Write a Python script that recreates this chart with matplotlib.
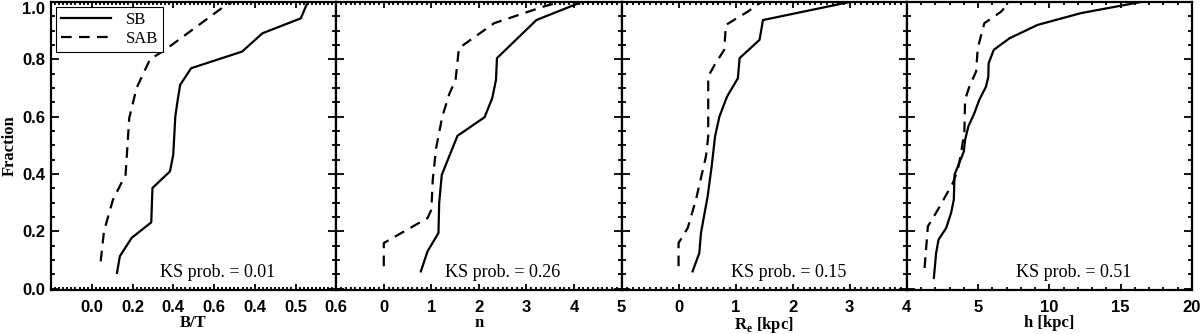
import matplotlib
matplotlib.use("Agg")
import matplotlib.pyplot as plt
from matplotlib.ticker import MultipleLocator, FixedLocator, FixedFormatter, FormatStrFormatter

# cumulative fractions
bt_sb_x = [0.062, 0.069, 0.098, 0.146, 0.149, 0.192, 0.200, 0.205, 0.211, 0.217, 0.244, 0.369, 0.419, 0.513, 0.530]
bt_sb_y = [0.055, 0.113, 0.177, 0.231, 0.351, 0.409, 0.467, 0.600, 0.659, 0.711, 0.769, 0.827, 0.891, 0.943, 1.0]
bt_sab_x = [0.022, 0.030, 0.052, 0.083, 0.092, 0.110, 0.143, 0.180, 0.324, 0.345]
bt_sab_y = [0.095, 0.200, 0.310, 0.397, 0.595, 0.700, 0.800, 0.833, 0.984, 1.0]

n_sb_x = [0.78, 0.92, 1.15, 1.165, 1.22, 1.55, 2.12, 2.28, 2.36, 2.38, 3.21, 4.16]
n_sb_y = [0.060, 0.130, 0.194, 0.299, 0.397, 0.533, 0.598, 0.664, 0.728, 0.804, 0.937, 1.0]
n_sab_x = [0.0, 0.0, 0.92, 1.0, 1.03, 1.10, 1.23, 1.38, 1.51, 1.58, 2.32, 3.36, 3.70]
n_sab_y = [0.078, 0.159, 0.246, 0.275, 0.380, 0.490, 0.600, 0.680, 0.728, 0.839, 0.926, 0.984, 1.0]

re_sb_x = [0.246, 0.364, 0.393, 0.51, 0.58, 0.64, 0.716, 0.85, 1.04, 1.07, 1.42, 1.48, 3.0]
re_sb_y = [0.060, 0.124, 0.194, 0.322, 0.426, 0.531, 0.600, 0.670, 0.734, 0.804, 0.868, 0.937, 1.0]
re_sab_x = [0.0, 0.0, 0.16, 0.305, 0.48, 0.52, 0.52, 0.63, 0.80, 0.83, 1.21, 1.45]
re_sab_y = [0.078, 0.159, 0.211, 0.310, 0.461, 0.531, 0.740, 0.780, 0.833, 0.920, 0.966, 1.0]

h_sb_x = [1.90, 2.06, 2.23, 2.76, 3.11, 3.30, 3.35, 4.0, 4.09, 4.32, 4.74, 5.09, 5.56, 5.72, 5.74,
          6.10, 7.19, 9.17, 12.2, 16.4]
h_sb_y = [0.037, 0.124, 0.171, 0.211, 0.264, 0.310, 0.397, 0.478, 0.519, 0.566, 0.612, 0.659, 0.705,
          0.740, 0.786, 0.833, 0.873, 0.920, 0.961, 1.0]
h_sab_x = [1.25, 1.48, 2.18, 3.23, 3.58, 3.81, 4.04, 4.09, 4.39, 4.86, 4.98, 5.44, 6.61, 7.2]
h_sab_y = [0.072, 0.217, 0.275, 0.368, 0.415, 0.473, 0.548, 0.659, 0.705, 0.757, 0.839, 0.926, 0.966, 1.0]

ks_probs = ["0.01", "0.26", "0.15", "0.51"]
xlabels = ["B/T", "n", r"R$_\mathbf{e}$ [kpc]", "h [kpc]"]
bt_ticks = [0.0, 0.1, 0.2, 0.3, 0.4, 0.5, 0.6]
bt_ticklabels = ["0.0", "0.2", "0.4", "0.6", "0.4", "0.5", "0.6"]
n_ticks = [0, 1, 2, 3, 4, 5]
re_ticks = [0, 1, 2, 3, 4]
h_ticks = [5, 10, 15, 20]
frac_ticks = [0.0, 0.2, 0.4, 0.6, 0.8, 1.0]

serif = "Liberation Serif"
plt.rcParams["font.family"] = "Liberation Sans"
plt.rcParams["font.weight"] = "bold"
plt.rcParams["mathtext.fontset"] = "custom"
plt.rcParams["mathtext.bf"] = "Liberation Serif:bold"
plt.rcParams["mathtext.rm"] = "Liberation Serif:bold"
dash = (0, (4.8, 3.3))

fig = plt.figure(figsize=(12, 3.34), dpi=100)
left, right = 51 / 1200, 1192 / 1200
bottom, top = 44 / 334, 332 / 334
w = (right - left) / 4

panels = [
    (bt_sb_x, bt_sb_y, bt_sab_x, bt_sab_y, (-0.1, 0.6), 0.01, bt_ticks),
    (n_sb_x, n_sb_y, n_sab_x, n_sab_y, (-1, 5), 0.1, n_ticks),
    (re_sb_x, re_sb_y, re_sab_x, re_sab_y, (-1, 4), 0.1, re_ticks),
    (h_sb_x, h_sb_y, h_sab_x, h_sab_y, (0, 20), 1, h_ticks),
]

for i, (sx, sy, ax_, ay, xlim, minor, ticks) in enumerate(panels):
    ax = fig.add_axes([left + i * w, bottom, w, top - bottom])
    ax.plot(sx, sy, color="black", lw=1.6, label="SB")
    ax.plot(ax_, ay, color="black", lw=1.6, linestyle=dash, label="SAB")
    ax.set_xlim(*xlim)
    ax.set_ylim(-0.005, 1.0)
    for s in ax.spines.values():
        s.set_linewidth(1.6)
    ax.yaxis.set_major_locator(FixedLocator(frac_ticks))
    ax.yaxis.set_minor_locator(MultipleLocator(0.05))
    ax.yaxis.set_major_formatter(FormatStrFormatter("%.1f"))
    ax.xaxis.set_major_locator(FixedLocator(ticks))
    ax.xaxis.set_minor_locator(MultipleLocator(minor))
    ax.tick_params(axis="both", which="both", direction="in", top=True, right=True, width=1.3,
                   labelsize=12)
    ax.tick_params(axis="y", which="major", length=5.5, pad=4)
    ax.tick_params(axis="y", which="minor", length=3)
    ax.tick_params(axis="x", which="major", length=4, pad=7)
    ax.tick_params(axis="x", which="minor", length=2)
    if i == 0:
        ax.xaxis.set_major_formatter(FixedFormatter(bt_ticklabels))
        ax.set_ylabel("Fraction", family=serif, fontweight="bold", fontsize=12)
        ax.yaxis.set_label_coords(-0.118, 0.5)
        leg = ax.legend(loc="upper left", handlelength=3.0, prop={"family": serif, "size": 12, "weight": "normal"},
                        fancybox=False, edgecolor="black", framealpha=1, borderaxespad=0.3,
                        handletextpad=0.9, borderpad=0.3, labelspacing=0.2)
        leg.get_frame().set_linewidth(0.8)
        # keep the top "1.0" label inside the figure, as in the original
        ax.yaxis.get_major_ticks()[-1].label1.set_verticalalignment("top")
    else:
        ax.set_yticklabels([])
    ax.set_xlabel(xlabels[i], family=serif, fontweight="bold", fontsize=12, va="top")
    ax.xaxis.set_label_coords(0.5, -0.088)
    ax.text(0.585, 0.06, f"KS prob. = {ks_probs[i]}", transform=ax.transAxes, ha="center",
            va="center", family=serif, fontweight="normal", fontsize=13)

fig.savefig("out.png", dpi=100)
